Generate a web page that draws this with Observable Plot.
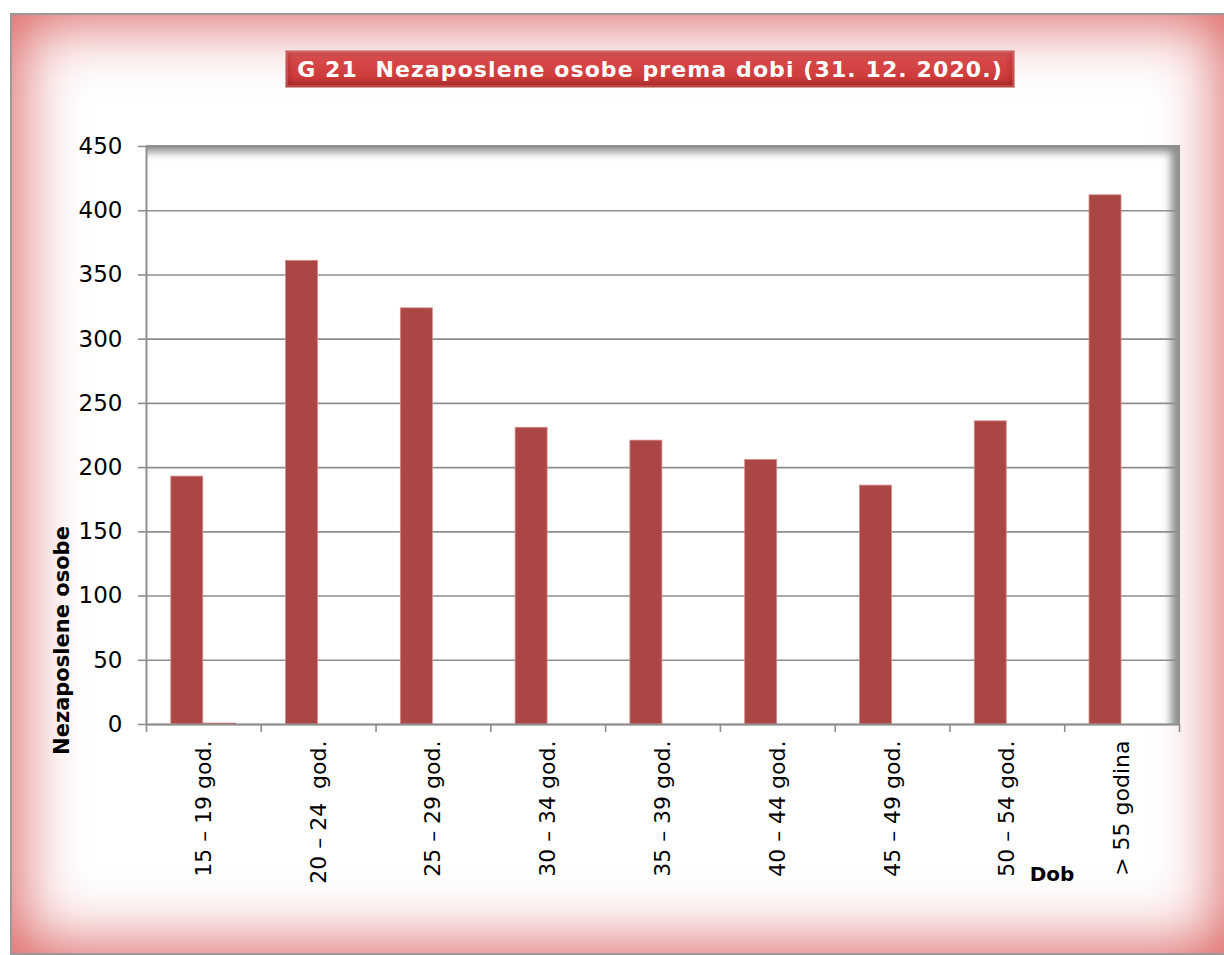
<!DOCTYPE html>
<html><head><meta charset="utf-8">
<script src="https://cdn.jsdelivr.net/npm/d3@7"></script>
<script src="https://cdn.jsdelivr.net/npm/@observablehq/plot@0.6"></script>
<style>
html,body{margin:0;padding:0;background:#fff;}
#page{position:relative;width:1224px;height:955px;overflow:hidden;background:#fff;font-family:"DejaVu Sans",sans-serif;}
#frame{position:absolute;left:10px;top:13px;width:1216px;height:938px;border:2px solid #9a9a9a;box-shadow:inset 0 0 65px 6px rgba(212,62,62,0.85);background:#fff;}
#plotbg{position:absolute;left:146px;top:145px;width:1034px;height:579px;background:#fff;box-shadow:inset -12px 10px 9px -3px rgba(0,0,0,0.45);}
#title{position:absolute;left:285px;top:50px;width:730px;height:38px;box-sizing:border-box;border:1px solid #d9a0a0;
  background:linear-gradient(to bottom,#e46464 0%,#d84848 25%,#d03c3c 70%,#b53434 100%);
  box-shadow:inset 0 0 0 2px rgba(255,140,140,0.3),inset 0 0 7px 3px rgba(110,10,10,0.35);
  color:#fff;font-family:"DejaVu Sans",sans-serif;font-weight:bold;font-size:22px;letter-spacing:1.1px;
  display:flex;align-items:center;justify-content:center;white-space:pre;}
#chart{position:absolute;left:0;top:120px;}
</style></head>
<body>
<div id="page">
  <div id="frame"></div>
  <div id="plotbg"></div>
  <div id="title">G 21  Nezaposlene osobe prema dobi (31. 12. 2020.)</div>
  <div id="chart"></div>
</div>
<script>
const categories = ["15 – 19 god.", "20 – 24  god.", "25 – 29 god.", "30 – 34 god.", "35 – 39 god.", "40 – 44 god.", "45 – 49 god.", "50 – 54 god.", "> 55 godina"];
const seriesA = [193, 361, 324, 231, 221, 206, 186, 236, 412];
const seriesB = [1, 0, 0, 0, 0, 0, 0, 0, 0];
const yTicks = [0, 50, 100, 150, 200, 250, 300, 350, 400, 450];
const yLabel = "Nezaposlene osobe";
const xLabel = "Dob";

const n = categories.length;
const idx = d3.range(n);
const dataA = idx.map(i => ({x1: i, x2: i + 1, v: seriesA[i]}));
const dataB = idx.filter(i => seriesB[i] > 0).map(i => ({x1: i, x2: i + 1, v: seriesB[i]}));
const grid = "#8e8e8e";

const plot = Plot.plot({
  width: 1224, height: 800,
  marginLeft: 146, marginRight: 45, marginTop: 26, marginBottom: 196,
  style: {background: "transparent", fontFamily: "DejaVu Sans", fontSize: "22px", color: "#000"},
  x: {type: "linear", domain: [0, n]},
  y: {domain: [0, 450]},
  marks: [
    Plot.gridY(yTicks, {stroke: grid, strokeOpacity: 1, strokeWidth: 1.6}),
    Plot.rectY(dataA, {x1: "x1", x2: "x2", y: "v", fill: "#aa4644", stroke: "#d58a88", strokeWidth: 0.8, insetLeft: 24.8, insetRight: 58}),
    Plot.rectY(dataB, {x1: "x1", x2: "x2", y: "v", fill: "#c86a68", insetLeft: 57, insetRight: 24.8}),
    Plot.ruleY([0], {stroke: grid, strokeWidth: 2}),
    Plot.ruleX([0], {stroke: grid, strokeWidth: 2}),
    Plot.axisY(yTicks, {tickSize: 8, tickPadding: 16, stroke: grid, strokeWidth: 1.6, fill: "#000", fontSize: 23, label: null}),
    Plot.axisX(d3.range(n + 1), {tickSize: 8, tickFormat: () => "", stroke: grid, strokeWidth: 1.6, label: null}),
    Plot.axisX(idx.map(i => i + 0.5), {tickSize: 0, tickPadding: 16, tickRotate: -90, tickFormat: d => categories[Math.floor(d)], fill: "#000", label: null}),
    Plot.text([yLabel], {frameAnchor: "left", text: d => d, rotate: -90, textAnchor: "middle", dx: -84, dy: 205, fontWeight: "bold", fontSize: 21, fill: "#000"}),
    Plot.text([xLabel], {frameAnchor: "bottom", text: d => d, dx: 389, dy: 156, fontWeight: "bold", fontSize: 20, fill: "#000"})
  ]
});
document.getElementById("chart").appendChild(plot);
</script>
</body></html>
